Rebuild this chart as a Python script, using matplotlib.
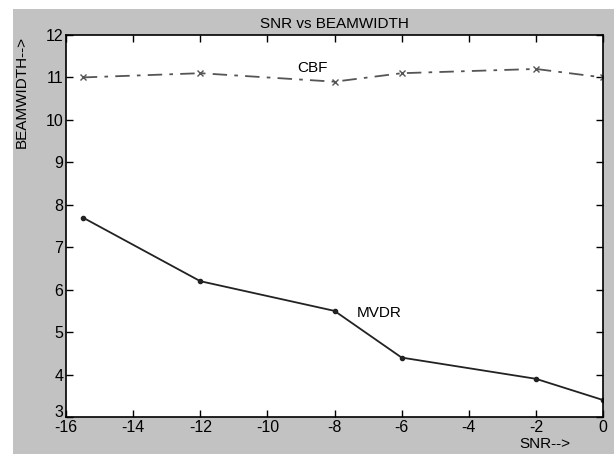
import matplotlib.pyplot as plt
import matplotlib.transforms as mtransforms
from matplotlib.patches import Rectangle

plt.rcParams['font.family'] = ['Liberation Sans', 'DejaVu Sans']
plt.rcParams['axes.unicode_minus'] = False

# data
snr = [-15.5, -12, -8, -6, -2, 0]
bw_cbf = [11.0, 11.1, 10.9, 11.1, 11.2, 11.0]
bw_mvdr = [7.7, 6.2, 5.5, 4.4, 3.9, 3.4]
xticks = list(range(-16, 1, 2))
yticks = list(range(3, 13))

fig = plt.figure(figsize=(6.14, 4.54), dpi=100)
fig.patch.set_facecolor('white')
# matlab style grey figure area, with the white strip top/left of the screenshot
fig.patches.append(Rectangle((13 / 614, 0), 1, 1 - 9 / 454, transform=fig.transFigure,
                             facecolor='#c2c2c2', edgecolor='none', zorder=-1))

ax = fig.add_axes([66 / 614, 1 - 417 / 454, (603 - 66) / 614, (417 - 35) / 454])
ax.set_facecolor('white')

ax.plot(snr, bw_cbf, linestyle=(0, (8, 4, 2, 4)), color='#555555', linewidth=1.3,
        marker='x', markersize=5, markeredgewidth=1)
ax.plot(snr, bw_mvdr, linestyle='-', color='#222222', linewidth=1.3,
        marker='.', markersize=6)

ax.text(-9.12, 11.22, 'CBF', fontsize=11, va='center', ha='left')
ax.text(-7.33, 5.44, 'MVDR', fontsize=11, va='center', ha='left')

ax.set_xlim(-16, 0)
ax.set_ylim(3, 12)
ax.set_xticks(xticks)
ax.set_yticks(yticks)
ax.tick_params(direction='in', top=True, right=True, length=5, width=1,
               labelsize=11.5, pad=2)
for s in ax.spines.values():
    s.set_linewidth(1.2)

# the bottom "3" sits just above "-16" like in matlab
fig.canvas.draw()
lab3 = ax.get_yticklabels()[0]
lab3.set_transform(lab3.get_transform() + mtransforms.ScaledTranslation(0, 4 / 72, fig.dpi_scale_trans))

ax.set_title('SNR vs BEAMWIDTH', fontsize=11, pad=5)
fig.text(545 / 614, 1 - 444 / 454, 'SNR-->', fontsize=11, ha='center', va='center')
fig.text(22 / 614, 1 - 36 / 454, 'BEAMWIDTH-->', fontsize=11, rotation=90,
         ha='center', va='top')

fig.savefig('out.png', dpi=100)
